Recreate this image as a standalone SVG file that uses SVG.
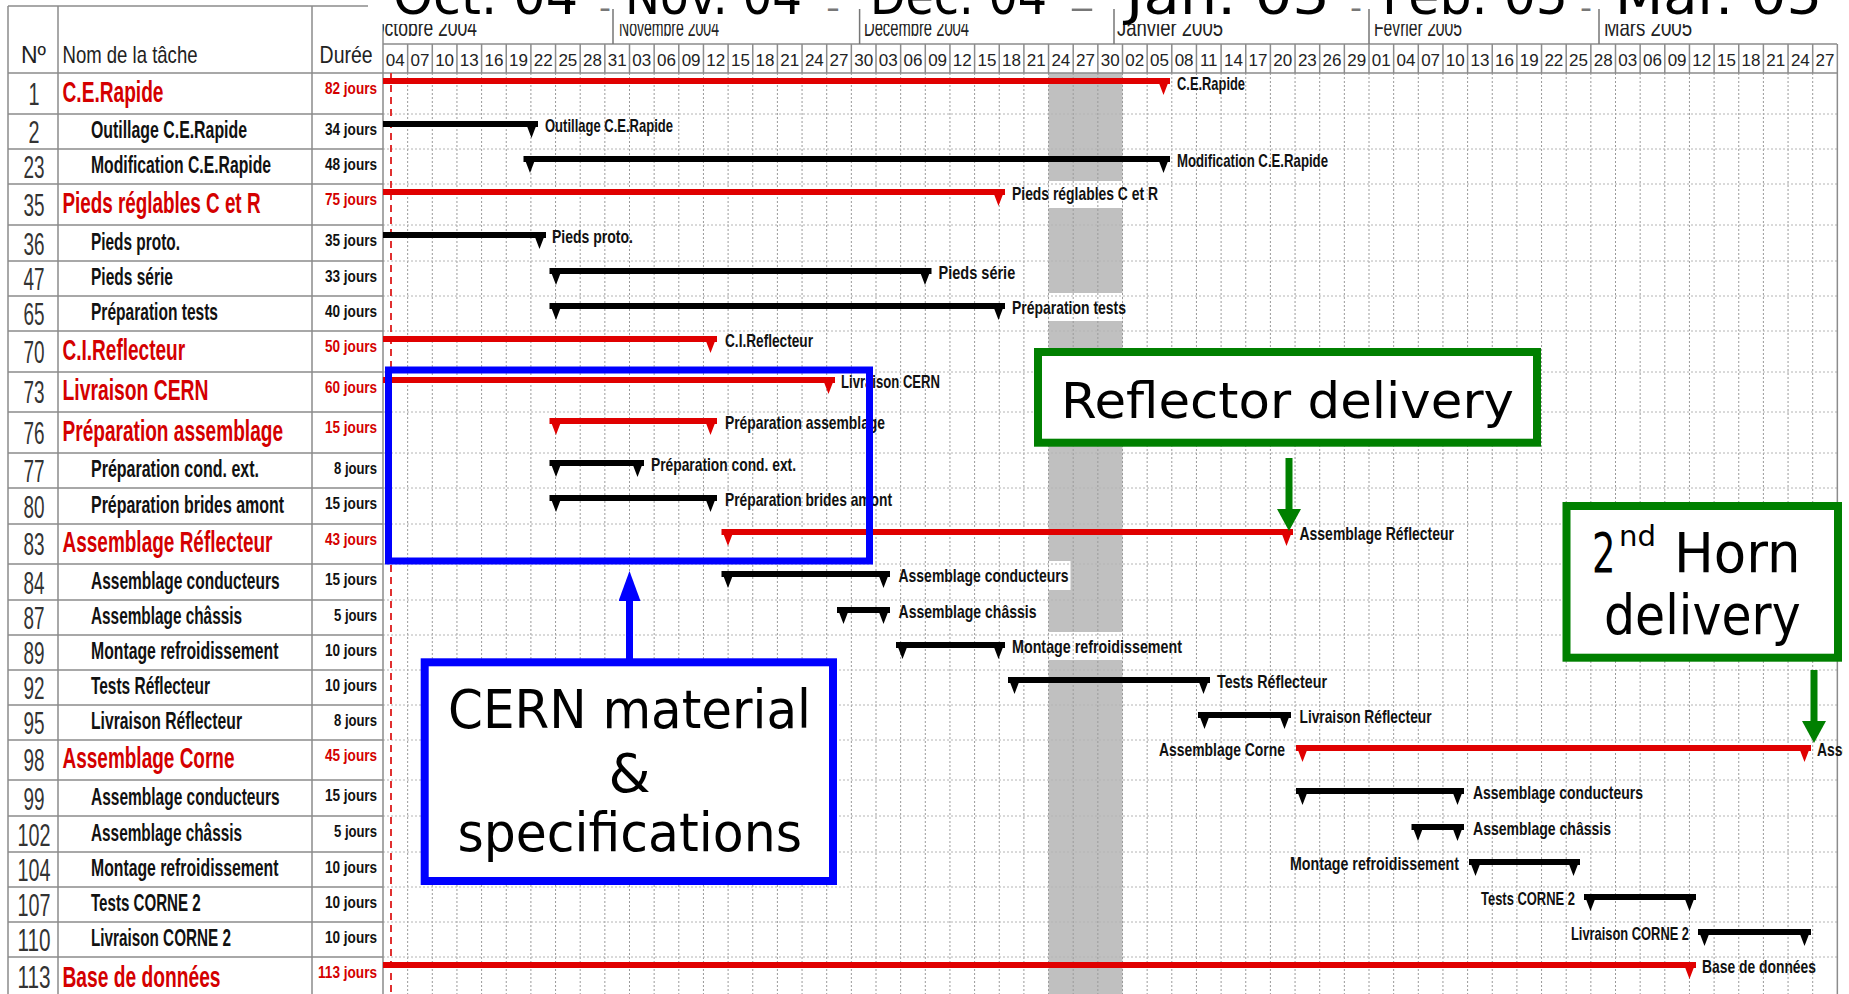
<svg xmlns="http://www.w3.org/2000/svg" width="1849" height="994" viewBox="0 0 1849 994">
<defs>
<style>
.num{font-family:"Liberation Sans",Arial,sans-serif;font-size:31px;fill:#333;text-anchor:middle}
.nm{font-family:"Liberation Sans",Arial,sans-serif;font-size:24px;font-weight:bold;fill:#111}
.snm{font-family:"Liberation Sans",Arial,sans-serif;font-size:29px;font-weight:bold;fill:#D40000}
.du{font-family:"Liberation Sans",Arial,sans-serif;font-size:17px;font-weight:bold;fill:#111;text-anchor:end}
.sdu{font-family:"Liberation Sans",Arial,sans-serif;font-size:17px;font-weight:bold;fill:#D40000;text-anchor:end}
.lb{font-family:"Liberation Sans",Arial,sans-serif;font-size:19px;font-weight:bold;fill:#111}
.lbe{font-family:"Liberation Sans",Arial,sans-serif;font-size:19px;font-weight:bold;fill:#111;text-anchor:end}
.day{font-family:"Liberation Sans",Arial,sans-serif;font-size:17px;fill:#222;text-anchor:middle}
.mon{font-family:"Liberation Sans",Arial,sans-serif;font-size:24px;fill:#222}
.hd{font-family:"Liberation Sans",Arial,sans-serif;font-size:24px;fill:#222}
.big{font-family:"DejaVu Sans",sans-serif;font-size:52px;fill:#000}
.hy{font-family:"DejaVu Sans",sans-serif;font-size:30px;fill:#777}
.ann{font-family:"DejaVu Sans",sans-serif;fill:#000;text-anchor:middle}
.rb{fill:#E00000}
.kb{fill:#000}
.gv{stroke:#9a9a9a;stroke-width:1;stroke-dasharray:2 2;fill:none}
.gh{stroke:#b4b4b4;stroke-width:1;stroke-dasharray:2 2;fill:none}
.tl{stroke:#8c8c8c;stroke-width:1.5;fill:none}
</style>
<marker id="ahB" markerUnits="userSpaceOnUse" viewBox="0 0 30 22" markerWidth="30" markerHeight="22" refX="0" refY="11" orient="auto"><path d="M0,0 L30,11 L0,22 Z" fill="#0000FF"/></marker>
<marker id="ahG" markerUnits="userSpaceOnUse" viewBox="0 0 22 24" markerWidth="22" markerHeight="24" refX="0" refY="12" orient="auto"><path d="M0,0 L22,12 L0,24 Z" fill="#008000"/></marker>
<clipPath id="chartClip"><rect x="383" y="0" width="1460" height="994"/></clipPath>
</defs>
<rect x="0" y="0" width="1849" height="994" fill="#fff"/>

<g id="background">
<rect x="1048.5" y="73" width="74" height="921" fill="#C0C0C0"/>
<rect x="1048.5" y="181" width="74" height="27" fill="#fff"/>
<rect x="1048.5" y="293" width="74" height="28" fill="#fff"/>
<rect x="1048.5" y="561" width="22" height="29" fill="#fff"/>
<rect x="1048.5" y="632" width="74" height="28" fill="#fff"/>
<path class="gv" d="M407.65,73V994M432.3,73V994M456.95,73V994M481.6,73V994M506.25,73V994M530.9,73V994M555.55,73V994M580.2,73V994M604.85,73V994M629.5,73V994M654.15,73V994M678.8,73V994M703.45,73V994M728.1,73V994M752.75,73V994M777.4,73V994M802.05,73V994M826.7,73V994M851.35,73V994M876,73V994M900.65,73V994M925.3,73V994M949.95,73V994M974.6,73V994M999.25,73V994M1023.9,73V994M1048.55,73V994M1073.2,73V994M1097.85,73V994M1122.5,73V994M1147.15,73V994M1171.8,73V994M1196.45,73V994M1221.1,73V994M1245.75,73V994M1270.4,73V994M1295.05,73V994M1319.7,73V994M1344.35,73V994M1369,73V994M1393.65,73V994M1418.3,73V994M1442.95,73V994M1467.6,73V994M1492.25,73V994M1516.9,73V994M1541.55,73V994M1566.2,73V994M1590.85,73V994M1615.5,73V994M1640.15,73V994M1664.8,73V994M1689.45,73V994M1714.1,73V994M1738.75,73V994M1763.4,73V994M1788.05,73V994M1812.7,73V994"/>
<path class="gh" d="M383,114H1837M383,149H1837M383,184H1837M383,225H1837M383,261H1837M383,296H1837M383,331H1837M383,372H1837M383,412H1837M383,453H1837M383,488H1837M383,524H1837M383,564H1837M383,600H1837M383,635H1837M383,670H1837M383,705H1837M383,740H1837M383,780H1837M383,816H1837M383,852H1837M383,887H1837M383,922H1837M383,957H1837"/>
<path class="tl" d="M8,6H383M8,73H1837M8,114H383M8,149H383M8,184H383M8,225H383M8,261H383M8,296H383M8,331H383M8,372H383M8,412H383M8,453H383M8,488H383M8,524H383M8,564H383M8,600H383M8,635H383M8,670H383M8,705H383M8,740H383M8,780H383M8,816H383M8,852H383M8,887H383M8,922H383M8,957H383M8,6V994M58,6V994M312,6V994M383,6V994M1837.35,44V994M383,44H1837"/>
<path class="tl" d="M407.65,44V73M432.3,44V73M456.95,44V73M481.6,44V73M506.25,44V73M530.9,44V73M555.55,44V73M580.2,44V73M604.85,44V73M629.5,44V73M654.15,44V73M678.8,44V73M703.45,44V73M728.1,44V73M752.75,44V73M777.4,44V73M802.05,44V73M826.7,44V73M851.35,44V73M876,44V73M900.65,44V73M925.3,44V73M949.95,44V73M974.6,44V73M999.25,44V73M1023.9,44V73M1048.55,44V73M1073.2,44V73M1097.85,44V73M1122.5,44V73M1147.15,44V73M1171.8,44V73M1196.45,44V73M1221.1,44V73M1245.75,44V73M1270.4,44V73M1295.05,44V73M1319.7,44V73M1344.35,44V73M1369,44V73M1393.65,44V73M1418.3,44V73M1442.95,44V73M1467.6,44V73M1492.25,44V73M1516.9,44V73M1541.55,44V73M1566.2,44V73M1590.85,44V73M1615.5,44V73M1640.15,44V73M1664.8,44V73M1689.45,44V73M1714.1,44V73M1738.75,44V73M1763.4,44V73M1788.05,44V73M1812.7,44V73"/>
<line x1="391" y1="73" x2="391" y2="994" stroke="#E03030" stroke-width="2" stroke-dasharray="7 5"/>
</g>

<g id="header">
<text class="hd" x="21" y="63" textLength="25" lengthAdjust="spacingAndGlyphs">Nº</text>
<text class="hd" x="62.5" y="63" textLength="135" lengthAdjust="spacingAndGlyphs">Nom de la tâche</text>
<text class="hd" x="319.6" y="63" textLength="53" lengthAdjust="spacingAndGlyphs">Durée</text>
<g clip-path="url(#chartClip)">
<text class="mon" x="371" y="36" textLength="106" lengthAdjust="spacingAndGlyphs">Octobre 2004</text>
</g>
<text class="mon" x="619" y="36" textLength="100" lengthAdjust="spacingAndGlyphs">Novembre 2004</text>
<text class="mon" x="864" y="36" textLength="105" lengthAdjust="spacingAndGlyphs">Décembre 2004</text>
<text class="mon" x="1117" y="36" textLength="106" lengthAdjust="spacingAndGlyphs">Janvier 2005</text>
<text class="mon" x="1374" y="36" textLength="88" lengthAdjust="spacingAndGlyphs">Février 2005</text>
<text class="mon" x="1604" y="36" textLength="88" lengthAdjust="spacingAndGlyphs">Mars 2005</text>
<g>
<text class="day" x="395.3" y="66">04</text><text class="day" x="419.95" y="66">07</text><text class="day" x="444.6" y="66">10</text><text class="day" x="469.25" y="66">13</text><text class="day" x="493.9" y="66">16</text><text class="day" x="518.55" y="66">19</text><text class="day" x="543.2" y="66">22</text><text class="day" x="567.85" y="66">25</text><text class="day" x="592.5" y="66">28</text><text class="day" x="617.15" y="66">31</text>
<text class="day" x="641.8" y="66">03</text><text class="day" x="666.45" y="66">06</text><text class="day" x="691.1" y="66">09</text><text class="day" x="715.75" y="66">12</text><text class="day" x="740.4" y="66">15</text><text class="day" x="765.05" y="66">18</text><text class="day" x="789.7" y="66">21</text><text class="day" x="814.35" y="66">24</text><text class="day" x="839" y="66">27</text><text class="day" x="863.65" y="66">30</text>
<text class="day" x="888.3" y="66">03</text><text class="day" x="912.95" y="66">06</text><text class="day" x="937.6" y="66">09</text><text class="day" x="962.25" y="66">12</text><text class="day" x="986.9" y="66">15</text><text class="day" x="1011.55" y="66">18</text><text class="day" x="1036.2" y="66">21</text><text class="day" x="1060.85" y="66">24</text><text class="day" x="1085.5" y="66">27</text><text class="day" x="1110.15" y="66">30</text>
<text class="day" x="1134.8" y="66">02</text><text class="day" x="1159.45" y="66">05</text><text class="day" x="1184.1" y="66">08</text><text class="day" x="1208.75" y="66">11</text><text class="day" x="1233.4" y="66">14</text><text class="day" x="1258.05" y="66">17</text><text class="day" x="1282.7" y="66">20</text><text class="day" x="1307.35" y="66">23</text><text class="day" x="1332" y="66">26</text><text class="day" x="1356.65" y="66">29</text>
<text class="day" x="1381.3" y="66">01</text><text class="day" x="1405.95" y="66">04</text><text class="day" x="1430.6" y="66">07</text><text class="day" x="1455.25" y="66">10</text><text class="day" x="1479.9" y="66">13</text><text class="day" x="1504.55" y="66">16</text><text class="day" x="1529.2" y="66">19</text><text class="day" x="1553.85" y="66">22</text><text class="day" x="1578.5" y="66">25</text><text class="day" x="1603.15" y="66">28</text>
<text class="day" x="1627.8" y="66">03</text><text class="day" x="1652.45" y="66">06</text><text class="day" x="1677.1" y="66">09</text><text class="day" x="1701.75" y="66">12</text><text class="day" x="1726.4" y="66">15</text><text class="day" x="1751.05" y="66">18</text><text class="day" x="1775.7" y="66">21</text><text class="day" x="1800.35" y="66">24</text><text class="day" x="1825" y="66">27</text>
</g>
</g>

<g id="task-1"><text class="num" x="34" y="105" textLength="11" lengthAdjust="spacingAndGlyphs">1</text><text class="snm" x="62.5" y="102" textLength="101" lengthAdjust="spacingAndGlyphs">C.E.Rapide</text><text class="sdu" x="377" y="94" textLength="52" lengthAdjust="spacingAndGlyphs">82 jours</text><path class="rb" d="M383,78H1170V84H383Z M1157,78H1170L1163.5,95Z"/><text class="lb" x="1177" y="90" textLength="68" lengthAdjust="spacingAndGlyphs">C.E.Rapide</text></g>
<g id="task-2"><text class="num" x="34" y="143" textLength="11" lengthAdjust="spacingAndGlyphs">2</text><text class="nm" x="91" y="138" textLength="156" lengthAdjust="spacingAndGlyphs">Outillage C.E.Rapide</text><text class="du" x="377" y="135" textLength="52" lengthAdjust="spacingAndGlyphs">34 jours</text><path class="kb" d="M383,121H538V127H383Z M525,121H538L531.5,138Z"/><text class="lb" x="545" y="132" textLength="128" lengthAdjust="spacingAndGlyphs">Outillage C.E.Rapide</text></g>
<g id="task-23"><text class="num" x="34" y="178" textLength="21" lengthAdjust="spacingAndGlyphs">23</text><text class="nm" x="91" y="173" textLength="180" lengthAdjust="spacingAndGlyphs">Modification C.E.Rapide</text><text class="du" x="377" y="170" textLength="52" lengthAdjust="spacingAndGlyphs">48 jours</text><path class="kb" d="M523.5,156H1170V162H523.5Z M523.5,156H536.5L530,173Z M1157,156H1170L1163.5,173Z"/><text class="lb" x="1177" y="167" textLength="151" lengthAdjust="spacingAndGlyphs">Modification C.E.Rapide</text></g>
<g id="task-35"><text class="num" x="34" y="216" textLength="21" lengthAdjust="spacingAndGlyphs">35</text><text class="snm" x="62.5" y="213" textLength="198" lengthAdjust="spacingAndGlyphs">Pieds réglables C et R</text><text class="sdu" x="377" y="205" textLength="52" lengthAdjust="spacingAndGlyphs">75 jours</text><path class="rb" d="M383,189H1005V195H383Z M992,189H1005L998.5,206Z"/><text class="lb" x="1012" y="200" textLength="146" lengthAdjust="spacingAndGlyphs">Pieds réglables C et R</text></g>
<g id="task-36"><text class="num" x="34" y="255" textLength="21" lengthAdjust="spacingAndGlyphs">36</text><text class="nm" x="91" y="250" textLength="89" lengthAdjust="spacingAndGlyphs">Pieds proto.</text><text class="du" x="377" y="246" textLength="52" lengthAdjust="spacingAndGlyphs">35 jours</text><path class="kb" d="M383,232H546V238H383Z M533,232H546L539.5,249Z"/><text class="lb" x="552" y="243" textLength="81" lengthAdjust="spacingAndGlyphs">Pieds proto.</text></g>
<g id="task-47"><text class="num" x="34" y="290" textLength="21" lengthAdjust="spacingAndGlyphs">47</text><text class="nm" x="91" y="285" textLength="82" lengthAdjust="spacingAndGlyphs">Pieds série</text><text class="du" x="377" y="282" textLength="52" lengthAdjust="spacingAndGlyphs">33 jours</text><path class="kb" d="M549.5,268H931.5V274H549.5Z M549.5,268H562.5L556,285Z M918.5,268H931.5L925,285Z"/><text class="lb" x="938.6" y="279" textLength="76.6" lengthAdjust="spacingAndGlyphs">Pieds série</text></g>
<g id="task-65"><text class="num" x="34" y="325" textLength="21" lengthAdjust="spacingAndGlyphs">65</text><text class="nm" x="91" y="320" textLength="127" lengthAdjust="spacingAndGlyphs">Préparation tests</text><text class="du" x="377" y="317" textLength="52" lengthAdjust="spacingAndGlyphs">40 jours</text><path class="kb" d="M549.5,303H1005V309H549.5Z M549.5,303H562.5L556,320Z M992,303H1005L998.5,320Z"/><text class="lb" x="1012" y="314" textLength="114" lengthAdjust="spacingAndGlyphs">Préparation tests</text></g>
<g id="task-70"><text class="num" x="34" y="363" textLength="21" lengthAdjust="spacingAndGlyphs">70</text><text class="snm" x="62.5" y="360" textLength="122.6" lengthAdjust="spacingAndGlyphs">C.I.Reflecteur</text><text class="sdu" x="377" y="352" textLength="52" lengthAdjust="spacingAndGlyphs">50 jours</text><path class="rb" d="M383,336H717V342H383Z M704,336H717L710.5,353Z"/><text class="lb" x="725" y="347" textLength="88" lengthAdjust="spacingAndGlyphs">C.I.Reflecteur</text></g>
<g id="task-73"><text class="num" x="34" y="403" textLength="21" lengthAdjust="spacingAndGlyphs">73</text><text class="snm" x="62.5" y="400" textLength="146" lengthAdjust="spacingAndGlyphs">Livraison CERN</text><text class="sdu" x="377" y="393" textLength="52" lengthAdjust="spacingAndGlyphs">60 jours</text><path class="rb" d="M383,377H835V383H383Z M822,377H835L828.5,394Z"/><text class="lb" x="841" y="388" textLength="99" lengthAdjust="spacingAndGlyphs">Livraison CERN</text></g>
<g id="task-76"><text class="num" x="34" y="444" textLength="21" lengthAdjust="spacingAndGlyphs">76</text><text class="snm" x="62.5" y="441" textLength="220.5" lengthAdjust="spacingAndGlyphs">Préparation assemblage</text><text class="sdu" x="377" y="433" textLength="52" lengthAdjust="spacingAndGlyphs">15 jours</text><path class="rb" d="M549.5,418H717V424H549.5Z M549.5,418H562.5L556,435Z M704,418H717L710.5,435Z"/><text class="lb" x="725" y="429" textLength="160" lengthAdjust="spacingAndGlyphs">Préparation assemblage</text></g>
<g id="task-77"><text class="num" x="34" y="482" textLength="21" lengthAdjust="spacingAndGlyphs">77</text><text class="nm" x="91" y="477" textLength="168" lengthAdjust="spacingAndGlyphs">Préparation cond. ext.</text><text class="du" x="377" y="474" textLength="43" lengthAdjust="spacingAndGlyphs">8 jours</text><path class="kb" d="M549.5,460H644V466H549.5Z M549.5,460H562.5L556,477Z M631,460H644L637.5,477Z"/><text class="lb" x="651" y="471" textLength="145" lengthAdjust="spacingAndGlyphs">Préparation cond. ext.</text></g>
<g id="task-80"><text class="num" x="34" y="518" textLength="21" lengthAdjust="spacingAndGlyphs">80</text><text class="nm" x="91" y="513" textLength="193" lengthAdjust="spacingAndGlyphs">Préparation brides amont</text><text class="du" x="377" y="509" textLength="52" lengthAdjust="spacingAndGlyphs">15 jours</text><path class="kb" d="M549.5,495H717V501H549.5Z M549.5,495H562.5L556,512Z M704,495H717L710.5,512Z"/><text class="lb" x="725" y="506" textLength="167" lengthAdjust="spacingAndGlyphs">Préparation brides amont</text></g>
<g id="task-83"><text class="num" x="34" y="555" textLength="21" lengthAdjust="spacingAndGlyphs">83</text><text class="snm" x="62.5" y="552" textLength="210" lengthAdjust="spacingAndGlyphs">Assemblage Réflecteur</text><text class="sdu" x="377" y="545" textLength="52" lengthAdjust="spacingAndGlyphs">43 jours</text><path class="rb" d="M721.5,529H1293V535H721.5Z M721.5,529H734.5L728,546Z M1280,529H1293L1286.5,546Z"/><text class="lb" x="1299.5" y="540" textLength="154.5" lengthAdjust="spacingAndGlyphs">Assemblage Réflecteur</text></g>
<g id="task-84"><text class="num" x="34" y="594" textLength="21" lengthAdjust="spacingAndGlyphs">84</text><text class="nm" x="91" y="589" textLength="188.6" lengthAdjust="spacingAndGlyphs">Assemblage conducteurs</text><text class="du" x="377" y="585" textLength="52" lengthAdjust="spacingAndGlyphs">15 jours</text><path class="kb" d="M721.5,571H890V577H721.5Z M721.5,571H734.5L728,588Z M877,571H890L883.5,588Z"/><text class="lb" x="898.5" y="582" textLength="170" lengthAdjust="spacingAndGlyphs">Assemblage conducteurs</text></g>
<g id="task-87"><text class="num" x="34" y="629" textLength="21" lengthAdjust="spacingAndGlyphs">87</text><text class="nm" x="91" y="624" textLength="151" lengthAdjust="spacingAndGlyphs">Assemblage châssis</text><text class="du" x="377" y="621" textLength="43" lengthAdjust="spacingAndGlyphs">5 jours</text><path class="kb" d="M837,607H890V613H837Z M837,607H850L843.5,624Z M877,607H890L883.5,624Z"/><text class="lb" x="898.5" y="618" textLength="138" lengthAdjust="spacingAndGlyphs">Assemblage châssis</text></g>
<g id="task-89"><text class="num" x="34" y="664" textLength="21" lengthAdjust="spacingAndGlyphs">89</text><text class="nm" x="91" y="659" textLength="187.5" lengthAdjust="spacingAndGlyphs">Montage refroidissement</text><text class="du" x="377" y="656" textLength="52" lengthAdjust="spacingAndGlyphs">10 jours</text><path class="kb" d="M896,642H1005V648H896Z M896,642H909L902.5,659Z M992,642H1005L998.5,659Z"/><text class="lb" x="1012" y="653" textLength="170" lengthAdjust="spacingAndGlyphs">Montage refroidissement</text></g>
<g id="task-92"><text class="num" x="34" y="699" textLength="21" lengthAdjust="spacingAndGlyphs">92</text><text class="nm" x="91" y="694" textLength="119" lengthAdjust="spacingAndGlyphs">Tests Réflecteur</text><text class="du" x="377" y="691" textLength="52" lengthAdjust="spacingAndGlyphs">10 jours</text><path class="kb" d="M1008,677H1210V683H1008Z M1008,677H1021L1014.5,694Z M1197,677H1210L1203.5,694Z"/><text class="lb" x="1217" y="688" textLength="110" lengthAdjust="spacingAndGlyphs">Tests Réflecteur</text></g>
<g id="task-95"><text class="num" x="34" y="734" textLength="21" lengthAdjust="spacingAndGlyphs">95</text><text class="nm" x="91" y="729" textLength="151" lengthAdjust="spacingAndGlyphs">Livraison Réflecteur</text><text class="du" x="377" y="726" textLength="43" lengthAdjust="spacingAndGlyphs">8 jours</text><path class="kb" d="M1198,712H1291V718H1198Z M1198,712H1211L1204.5,729Z M1278,712H1291L1284.5,729Z"/><text class="lb" x="1299.5" y="723" textLength="132" lengthAdjust="spacingAndGlyphs">Livraison Réflecteur</text></g>
<g id="task-98"><text class="num" x="34" y="771" textLength="21" lengthAdjust="spacingAndGlyphs">98</text><text class="snm" x="62.5" y="768" textLength="172" lengthAdjust="spacingAndGlyphs">Assemblage Corne</text><text class="sdu" x="377" y="761" textLength="52" lengthAdjust="spacingAndGlyphs">45 jours</text><path class="rb" d="M1296,745H1811V751H1296Z M1296,745H1309L1302.5,762Z M1798,745H1811L1804.5,762Z"/><text class="lbe" x="1285" y="756" textLength="126" lengthAdjust="spacingAndGlyphs">Assemblage Corne</text><g clip-path="url(#chartClip)"><text class="lb" x="1817" y="756" textLength="126" lengthAdjust="spacingAndGlyphs">Assemblage Corne</text></g></g>
<g id="task-99"><text class="num" x="34" y="810" textLength="21" lengthAdjust="spacingAndGlyphs">99</text><text class="nm" x="91" y="805" textLength="188.6" lengthAdjust="spacingAndGlyphs">Assemblage conducteurs</text><text class="du" x="377" y="801" textLength="52" lengthAdjust="spacingAndGlyphs">15 jours</text><path class="kb" d="M1296,788H1464V794H1296Z M1296,788H1309L1302.5,805Z M1451,788H1464L1457.5,805Z"/><text class="lb" x="1473" y="799" textLength="170" lengthAdjust="spacingAndGlyphs">Assemblage conducteurs</text></g>
<g id="task-102"><text class="num" x="34" y="846" textLength="33" lengthAdjust="spacingAndGlyphs">102</text><text class="nm" x="91" y="841" textLength="151" lengthAdjust="spacingAndGlyphs">Assemblage châssis</text><text class="du" x="377" y="837" textLength="43" lengthAdjust="spacingAndGlyphs">5 jours</text><path class="kb" d="M1411.5,824H1464V830H1411.5Z M1411.5,824H1424.5L1418,841Z M1451,824H1464L1457.5,841Z"/><text class="lb" x="1473" y="835" textLength="138" lengthAdjust="spacingAndGlyphs">Assemblage châssis</text></g>
<g id="task-104"><text class="num" x="34" y="881" textLength="33" lengthAdjust="spacingAndGlyphs">104</text><text class="nm" x="91" y="876" textLength="187.5" lengthAdjust="spacingAndGlyphs">Montage refroidissement</text><text class="du" x="377" y="873" textLength="52" lengthAdjust="spacingAndGlyphs">10 jours</text><path class="kb" d="M1469,859H1580V865H1469Z M1469,859H1482L1475.5,876Z M1567,859H1580L1573.5,876Z"/><text class="lbe" x="1459" y="870" textLength="169" lengthAdjust="spacingAndGlyphs">Montage refroidissement</text></g>
<g id="task-107"><text class="num" x="34" y="916" textLength="33" lengthAdjust="spacingAndGlyphs">107</text><text class="nm" x="91" y="911" textLength="109.7" lengthAdjust="spacingAndGlyphs">Tests CORNE 2</text><text class="du" x="377" y="908" textLength="52" lengthAdjust="spacingAndGlyphs">10 jours</text><path class="kb" d="M1584,894H1696V900H1584Z M1584,894H1597L1590.5,911Z M1683,894H1696L1689.5,911Z"/><text class="lbe" x="1575" y="905" textLength="94" lengthAdjust="spacingAndGlyphs">Tests CORNE 2</text></g>
<g id="task-110"><text class="num" x="34" y="951" textLength="33" lengthAdjust="spacingAndGlyphs">110</text><text class="nm" x="91" y="946" textLength="140" lengthAdjust="spacingAndGlyphs">Livraison CORNE 2</text><text class="du" x="377" y="943" textLength="52" lengthAdjust="spacingAndGlyphs">10 jours</text><path class="kb" d="M1698,929H1811V935H1698Z M1698,929H1711L1704.5,946Z M1798,929H1811L1804.5,946Z"/><text class="lbe" x="1689" y="940" textLength="118" lengthAdjust="spacingAndGlyphs">Livraison CORNE 2</text></g>
<g id="task-113"><text class="num" x="34" y="988" textLength="33" lengthAdjust="spacingAndGlyphs">113</text><text class="snm" x="62.5" y="987" textLength="158" lengthAdjust="spacingAndGlyphs">Base de données</text><text class="sdu" x="377" y="978" textLength="59" lengthAdjust="spacingAndGlyphs">113 jours</text><path class="rb" d="M383,962H1696V968H383Z M1683,962H1696L1689.5,979Z"/><text class="lb" x="1702" y="973" textLength="114" lengthAdjust="spacingAndGlyphs">Base de données</text></g>

<g id="timeline-title">
<rect x="368" y="0" width="1481" height="24" fill="#fff"/>
<path d="M613,9V44M859.6,9V44M1114,9V44M1369,9V44M1599,9V44" stroke="#777" stroke-width="1.5" fill="none"/>
<text class="big" x="393" y="14" textLength="185" lengthAdjust="spacingAndGlyphs">Oct. 04</text>
<text class="hy" x="599" y="18" textLength="12" lengthAdjust="spacingAndGlyphs">-</text>
<text class="big" x="625" y="14" textLength="177" lengthAdjust="spacingAndGlyphs">Nov. 04</text>
<text class="hy" x="826" y="18" textLength="14" lengthAdjust="spacingAndGlyphs">-</text>
<text class="big" x="870" y="14" textLength="177" lengthAdjust="spacingAndGlyphs">Dec. 04</text>
<text class="hy" x="1068" y="18" textLength="28" lengthAdjust="spacingAndGlyphs">-</text>
<text class="big" x="1126" y="14" textLength="204" lengthAdjust="spacingAndGlyphs">Jan. 05</text>
<text class="hy" x="1350" y="18" textLength="12" lengthAdjust="spacingAndGlyphs">-</text>
<text class="big" x="1382" y="14" textLength="186" lengthAdjust="spacingAndGlyphs">Feb. 05</text>
<text class="hy" x="1580" y="18" textLength="12" lengthAdjust="spacingAndGlyphs">-</text>
<text class="big" x="1615" y="14" textLength="207" lengthAdjust="spacingAndGlyphs">Mar. 05</text>
</g>

<g id="cern-highlight">
<rect x="388.5" y="370" width="481" height="191" fill="none" stroke="#0000FF" stroke-width="7"/>
</g>
<g id="cern-note">
<rect x="424.7" y="662.3" width="408.3" height="218.7" fill="#fff" stroke="#0000FF" stroke-width="8"/>
<text class="ann" x="629.5" y="728" font-size="54" textLength="363" lengthAdjust="spacingAndGlyphs">CERN material</text>
<text class="ann" x="629.5" y="792" font-size="54">&amp;</text>
<text class="ann" x="629.7" y="851" font-size="54" textLength="344.5" lengthAdjust="spacingAndGlyphs">specifications</text>
</g>
<g id="reflector-note">
<rect x="1038" y="352" width="499" height="90.7" fill="#fff" stroke="#008000" stroke-width="8"/>
<text class="ann" x="1287.5" y="418" font-size="50" textLength="453" lengthAdjust="spacingAndGlyphs">Reflector delivery</text>
</g>
<g id="horn-note">
<rect x="1566.5" y="506" width="271.5" height="151.7" fill="#fff" stroke="#008000" stroke-width="8"/>
<text class="ann" x="1603.7" y="572" font-size="56" textLength="23.5" lengthAdjust="spacingAndGlyphs">2</text>
<text class="ann" x="1637.5" y="546" font-size="28" textLength="37" lengthAdjust="spacingAndGlyphs">nd</text>
<text class="ann" x="1737.3" y="572" font-size="56" textLength="126.6" lengthAdjust="spacingAndGlyphs">Horn</text>
<text class="ann" x="1702.3" y="634" font-size="56" textLength="196.6" lengthAdjust="spacingAndGlyphs">delivery</text>
</g>

<g id="connectors">
<line x1="629.5" y1="659" x2="629.5" y2="601" stroke="#0000FF" stroke-width="7" marker-end="url(#ahB)"/>
<line x1="1289" y1="458" x2="1289" y2="509" stroke="#008000" stroke-width="7" marker-end="url(#ahG)"/>
<line x1="1814" y1="670" x2="1814" y2="721" stroke="#008000" stroke-width="7" marker-end="url(#ahG)"/>
</g>
</svg>
